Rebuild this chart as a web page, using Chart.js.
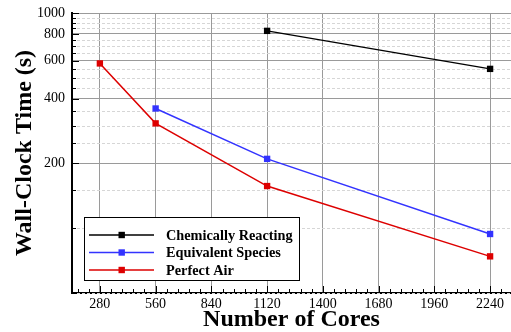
<!DOCTYPE html>
<html>
<head>
<meta charset="utf-8">
<script src="https://cdn.jsdelivr.net/npm/chart.js@4.4.0/dist/chart.umd.min.js"></script>
<style>
  html, body { margin: 0; padding: 0; background: #fff; }
</style>
</head>
<body>
<canvas id="timingChart" width="511" height="332"></canvas>
<script>
const coreTicks = [280, 560, 840, 1120, 1400, 1680, 1960, 2240];
const timeTicks = [200, 400, 600, 800, 1000];

const seriesNames = ["Chemically Reacting", "Equivalent Species", "Perfect Air"];
const seriesColors = ["#000000", "#3333ff", "#dd0000"];

const chemCores = [1120, 2240];
const chemTime = [826, 550];
const equivCores = [560, 1120, 2240];
const equivTime = [360, 210, 94];
const airCores = [280, 560, 1120, 2240];
const airTime = [583, 307, 157, 74];

const SERIF = "'Liberation Serif', 'Times New Roman', serif";

const toPoints = (xs, ys) => xs.map((x, i) => ({ x: x, y: ys[i] }));

const makeDataset = (idx, xs, ys) => ({
  label: seriesNames[idx],
  data: toPoints(xs, ys),
  borderColor: seriesColors[idx],
  backgroundColor: seriesColors[idx],
  borderWidth: 1.5,
  pointStyle: "rect",
  pointRadius: 4.5,
  pointBorderWidth: 0,
  tension: 0,
});

// dashed minor grid, inward ticks and the boxed legend
const axisDecor = {
  id: "axisDecor",
  beforeDatasetsDraw(chart) {
    const { ctx, chartArea: a, scales: { y } } = chart;
    ctx.save();
    ctx.strokeStyle = "#d6d6d6";
    ctx.lineWidth = 1;
    ctx.setLineDash([3, 2]);
    for (let v = 50; v < 1000; v += 50) {
      if (timeTicks.includes(v)) continue;
      const py = Math.round(y.getPixelForValue(v)) + 0.5;
      ctx.beginPath();
      ctx.moveTo(a.left, py);
      ctx.lineTo(a.right, py);
      ctx.stroke();
    }
    ctx.restore();
  },
  afterDraw(chart) {
    const { ctx, chartArea: a, scales: { x, y } } = chart;
    ctx.save();
    ctx.strokeStyle = "#000";
    ctx.lineWidth = 1;
    for (let v = 168; v <= x.max; v += 56) {
      const px = Math.round(x.getPixelForValue(v)) + 0.5;
      const len = coreTicks.includes(v) ? 7 : 4;
      ctx.beginPath();
      ctx.moveTo(px, a.bottom);
      ctx.lineTo(px, a.bottom - len);
      ctx.stroke();
    }
    for (let v = 50; v <= 1000; v += 50) {
      const py = Math.round(y.getPixelForValue(v)) + 0.5;
      const len = timeTicks.includes(v) ? 7 : 4;
      ctx.beginPath();
      ctx.moveTo(a.left, py);
      ctx.lineTo(a.left + len, py);
      ctx.stroke();
    }

    // legend
    const bx = 84.5, by = 217.5, bw = 215, bh = 63;
    ctx.fillStyle = "#fff";
    ctx.fillRect(bx, by, bw, bh);
    ctx.strokeStyle = "#000";
    ctx.strokeRect(bx, by, bw, bh);
    ctx.font = "bold 14.3px " + SERIF;
    ctx.textBaseline = "middle";
    chart.data.datasets.forEach((ds, i) => {
      const ry = 235 + i * 17.5;
      ctx.strokeStyle = ds.borderColor;
      ctx.lineWidth = 1.5;
      ctx.beginPath();
      ctx.moveTo(89, ry);
      ctx.lineTo(154, ry);
      ctx.stroke();
      ctx.fillStyle = ds.borderColor;
      ctx.fillRect(118.5, ry - 3.2, 6.4, 6.4);
      ctx.fillStyle = "#000";
      ctx.fillText(ds.label, 166, ry + 1);
    });
    ctx.restore();
  },
};

const chart = new Chart(document.getElementById("timingChart").getContext("2d"), {
  type: "line",
  data: {
    datasets: [
      makeDataset(0, chemCores, chemTime),
      makeDataset(1, equivCores, equivTime),
      makeDataset(2, airCores, airTime),
    ],
  },
  options: {
    responsive: false,
    animation: false,
    devicePixelRatio: 1,
    layout: { autoPadding: false, padding: { top: 13, right: 0, left: 0, bottom: 0 } },
    plugins: {
      legend: { display: false },
      tooltip: { enabled: false },
    },
    scales: {
      x: {
        type: "linear",
        min: 140,
        max: 2345,
        afterBuildTicks: (s) => {
          s.ticks = coreTicks.map((v) => ({ value: v }));
        },
        afterFit: (s) => {
          s.height = 39;
          s.paddingLeft = 0;
          s.paddingRight = 0;
        },
        ticks: {
          font: { family: SERIF, size: 14 },
          color: "#000",
          padding: 3,
          maxRotation: 0,
          autoSkip: false,
          callback: (value) => String(value),
        },
        grid: { color: "#9a9a9a", lineWidth: 1, drawTicks: false },
        border: { color: "#000", width: 2 },
        title: {
          display: true,
          text: "Number of Cores",
          color: "#000",
          font: { family: SERIF, size: 24, weight: "bold", lineHeight: 1 },
          padding: { top: 0, bottom: 0 },
        },
      },
      y: {
        type: "logarithmic",
        min: 50,
        max: 1000,
        afterBuildTicks: (s) => {
          s.ticks = timeTicks.map((v) => ({ value: v }));
        },
        afterFit: (s) => {
          s.width = 72;
          s.paddingTop = 0;
          s.paddingBottom = 0;
        },
        ticks: {
          font: { family: SERIF, size: 14 },
          color: "#000",
          padding: 7,
          autoSkip: false,
          callback: (value) => String(value),
        },
        grid: { color: "#9a9a9a", lineWidth: 1, drawTicks: false },
        border: { color: "#000", width: 2 },
        title: {
          display: true,
          text: "Wall-Clock Time (s)",
          color: "#000",
          font: { family: SERIF, size: 24, weight: "bold", lineHeight: 1 },
          padding: { top: 13, bottom: 0 },
        },
      },
    },
  },
  plugins: [axisDecor],
});
</script>
</body>
</html>
